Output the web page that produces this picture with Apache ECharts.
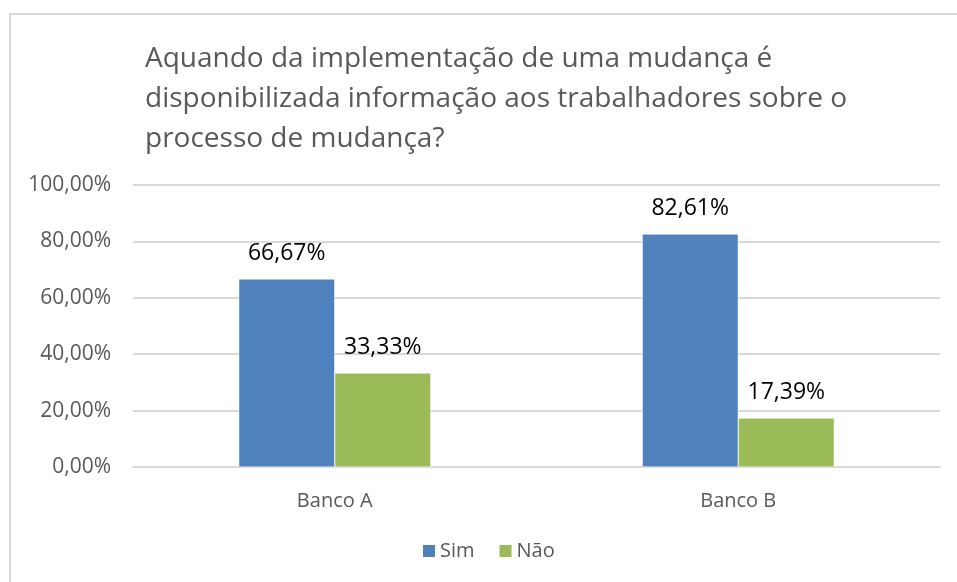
<!DOCTYPE html>
<html>
<head>
<meta charset="utf-8">
<script src="https://cdn.jsdelivr.net/npm/echarts@6/dist/echarts.min.js"></script>
<style>
  html, body { margin: 0; padding: 0; background: #ffffff; }
  #chart { width: 957px; height: 582px; }
</style>
</head>
<body>
<div id="chart"></div>
<script>
// Categories and series values (percent)
const categories = ['Banco A', 'Banco B'];
const simValues = [66.67, 82.61];
const naoValues = [33.33, 17.39];
const yTicks = [0, 20, 40, 60, 80, 100];
const titleText = 'Aquando da implementação de uma mudança é\ndisponibilizada informação aos trabalhadores sobre o\nprocesso de mudança?';

const fmt = v => v.toFixed(2).replace('.', ',') + '%';
const fontFamily = '"Open Sans", "Noto Sans", sans-serif';

const chart = echarts.init(document.getElementById('chart'));
chart.setOption({
  backgroundColor: '#ffffff',
  animation: false,
  graphic: [{
    type: 'rect',
    shape: { x: 10, y: 14, width: 980, height: 600 },
    style: { fill: 'none', stroke: '#d9d9d9', lineWidth: 2 },
    silent: true
  }],
  title: {
    text: titleText,
    left: 140,
    top: 34,
    textStyle: { fontFamily, fontSize: 28, fontWeight: 'normal', color: '#595959', lineHeight: 40 }
  },
  legend: {
    bottom: 16,
    left: 416,
    itemWidth: 14,
    itemHeight: 14,
    itemGap: 23,
    icon: 'rect',
    textStyle: { fontFamily, fontSize: 20, color: '#595959', padding: [0, 0, 0, -1] },
    data: ['Sim', 'Não']
  },
  grid: { left: 133, right: 17, top: 185, bottom: 115, containLabel: false },
  xAxis: {
    type: 'category',
    data: categories,
    axisLine: { lineStyle: { color: '#d9d9d9', width: 2 } },
    axisTick: { show: false },
    axisLabel: { fontFamily, fontSize: 20, color: '#595959', margin: 24 }
  },
  yAxis: {
    type: 'value',
    min: yTicks[0],
    max: yTicks[yTicks.length - 1],
    interval: yTicks[1] - yTicks[0],
    axisLine: { show: false },
    axisTick: { show: false },
    splitLine: { lineStyle: { color: '#d9d9d9', width: 2 } },
    axisLabel: { fontFamily, fontSize: 21, color: '#595959', margin: 22, formatter: fmt }
  },
  series: [
    {
      name: 'Sim',
      type: 'bar',
      data: simValues,
      barWidth: '23.8%',
      barGap: '0%',
      itemStyle: { color: '#4f81bd', borderColor: '#ffffff', borderWidth: 0.5 },
      label: { show: true, position: 'top', distance: 14, fontFamily, fontSize: 23, color: '#000000', formatter: p => fmt(p.value) }
    },
    {
      name: 'Não',
      type: 'bar',
      data: naoValues,
      barWidth: '23.8%',
      itemStyle: { color: '#9bbb59', borderColor: '#ffffff', borderWidth: 0.5 },
      label: { show: true, position: 'top', distance: 14, fontFamily, fontSize: 23, color: '#000000', formatter: p => fmt(p.value) }
    }
  ]
});
</script>
</body>
</html>
